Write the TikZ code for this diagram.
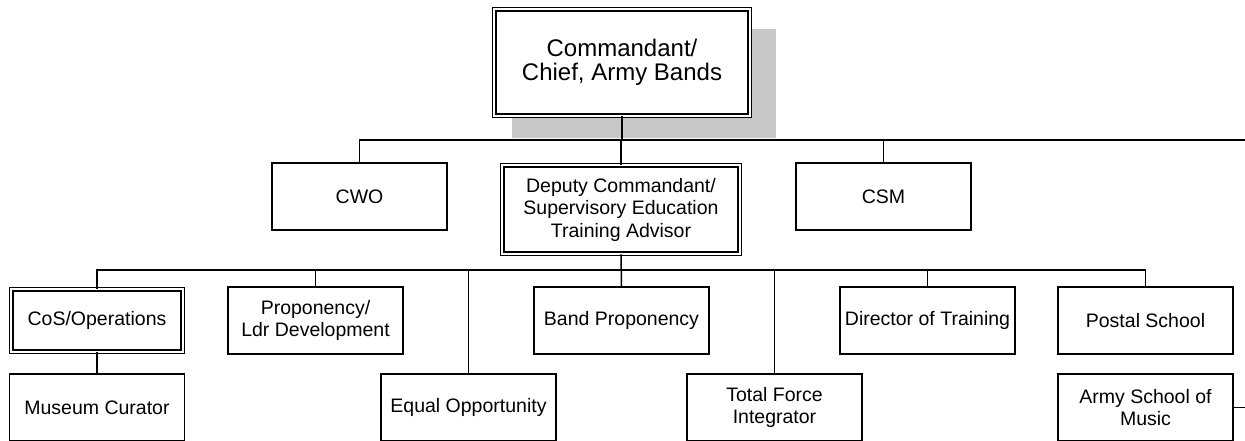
\documentclass[tikz,border=0pt]{standalone}
\usepackage{fontspec}
\setmainfont{Liberation Sans}
\definecolor{shadowgray}{HTML}{C8C8C8}
\begin{document}
\begin{tikzpicture}[x=1pt,y=-1pt,
  box/.style={draw=black,line width=1.5pt,fill=white,minimum width=175pt,minimum height=67pt,inner sep=0pt,align=center,font=\fontsize{19.5}{22.5}\selectfont},
  dbox/.style={box,double=white,double distance=2.2pt,line width=1.2pt},
  link/.style={draw=black,line width=1.5pt}]
\useasboundingbox (0,0) rectangle (1245,441);
% shadow of top box
\fill[shadowgray] (512,29) rectangle (776,138);
% top
\node[dbox,minimum width=255.4pt,minimum height=106.4pt,font=\fontsize{24}{24.5}\selectfont] (top) at (622,62.5) {Commandant/\\Chief, Army Bands};
% second row
\node[box] (cwo) at (359.5,196.5) {CWO};
\node[dbox,minimum width=237.4pt,minimum height=88.4pt] (dep) at (621,209.5) {Deputy Commandant/\\Supervisory Education\\Training Advisor};
\node[box] (csm) at (883.5,196.5) {CSM};
% third row
\node[dbox,minimum width=171.4pt,minimum height=62.4pt] (cos) at (97,320.5) {CoS/Operations};
\node[box] (prop) at (315.5,320.5) {Proponency/\\Ldr Development};
\node[box] (band) at (621.5,320.5) {Band Proponency};
\node[box] (dot) at (927.5,320.5) {Director of Training};
\node[box] (postal) at (1145.5,320.5) {Postal School};
% fourth row
\node[box] (mus) at (97,407.5) {Museum Curator};
\node[box] (eo) at (468.5,407.5) {Equal Opportunity};
\node[box] (tfi) at (774.5,407.5) {Total Force\\Integrator};
\node[box] (asm) at (1145.5,407.5) {Army School of\\Music};
% helper coordinates
\coordinate (l1) at (1245,140);
\coordinate (l2) at (622,270);
\coordinate (asmend) at (1245,407.5);
% connectors
\draw[link] (top.south) -- (top.south |- l1);
\draw[link] (cwo.north) |- (l1);
\draw[link] (dep.north) -- (dep.north |- l1);
\draw[link] (csm.north) -- (csm.north |- l1);
\draw[link] (dep.south) -- (band.north);
\draw[link] (cos.north) |- (l2) -| (postal.north);
\draw[link] (prop.north) -- (prop.north |- l2);
\draw[link] (eo.north) -- (eo.north |- l2);
\draw[link] (tfi.north) -- (tfi.north |- l2);
\draw[link] (dot.north) -- (dot.north |- l2);
\draw[link] (cos.south) -- (mus.north);
\draw[link] (asm.east) -- (asmend);
\end{tikzpicture}
\end{document}
